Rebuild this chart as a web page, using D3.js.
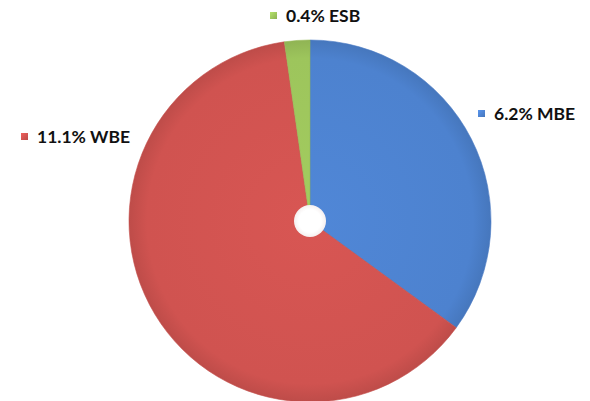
<!DOCTYPE html>
<html>
<head>
<meta charset="utf-8">
<script src="https://cdn.jsdelivr.net/npm/d3@7"></script>
<style>
  body { margin: 0; background: #fff; }
  svg { display: block; }
  text { font-family: Lato, "Open Sans", sans-serif; font-weight: bold; fill: #111; }
</style>
</head>
<body>
<div id="chart"></div>
<script>
// slices in drawing order, clockwise from 12 o'clock
const categories = ["MBE", "WBE", "ESB"];
const values = [6.2, 11.1, 0.4];
const colors = ["#4d82cf", "#d05350", "#9dc55c"];

const width = 590, height = 401;
const cx = 310, cy = 221, radius = 181, hole = 16;

// where each label sits (marker left edge, text baseline)
const labelPos = {
  MBE: [478, 120],
  WBE: [21, 143],
  ESB: [270, 22]
};

const svg = d3.select("#chart").append("svg")
  .attr("width", width)
  .attr("height", height);

const defs = svg.append("defs");

colors.forEach((c, i) => {
  const g = defs.append("radialGradient")
    .attr("id", "grad" + i)
    .attr("gradientUnits", "userSpaceOnUse")
    .attr("cx", 0).attr("cy", 0).attr("r", radius);
  g.append("stop").attr("offset", "0%").attr("stop-color", d3.color(c).brighter(0.1));
  g.append("stop").attr("offset", "90%").attr("stop-color", c);
  g.append("stop").attr("offset", "100%").attr("stop-color", d3.color(c).darker(0.25));

  const m = defs.append("linearGradient")
    .attr("id", "mark" + i)
    .attr("x1", 0).attr("y1", 0).attr("x2", 1).attr("y2", 1);
  m.append("stop").attr("offset", "0%").attr("stop-color", d3.color(c).brighter(0.4));
  m.append("stop").attr("offset", "100%").attr("stop-color", d3.color(c).darker(0.3));
});

const holeGrad = defs.append("radialGradient").attr("id", "holeGrad");
holeGrad.append("stop").attr("offset", "70%").attr("stop-color", "#ffffff");
holeGrad.append("stop").attr("offset", "100%").attr("stop-color", "#f5efef");

const data = categories.map((k, i) => ({ key: k, value: values[i], i }));

const pie = d3.pie().sort(null).value(d => d.value);
const arc = d3.arc().innerRadius(0).outerRadius(radius);

const g = svg.append("g").attr("transform", `translate(${cx},${cy})`);

g.selectAll("path.slice")
  .data(pie(data))
  .join("path")
  .attr("class", "slice")
  .attr("d", arc)
  .attr("fill", d => `url(#grad${d.data.i})`)
  .attr("stroke", d => d3.color(colors[d.data.i]).darker(0.15))
  .attr("stroke-width", 0.6);

g.append("circle")
  .attr("r", hole)
  .attr("fill", "url(#holeGrad)");

// labels with colored square markers
const lab = svg.append("g").selectAll("g")
  .data(data)
  .join("g")
  .attr("transform", d => `translate(${labelPos[d.key][0]},${labelPos[d.key][1]})`);

lab.append("rect")
  .attr("x", 0).attr("y", -10)
  .attr("width", 7).attr("height", 7)
  .attr("fill", d => `url(#mark${d.i})`);

lab.append("text")
  .attr("x", 16)
  .attr("y", 0)
  .style("font-size", "17.5px")
  .text(d => d3.format(".1f")(d.value) + "% " + d.key);
</script>
</body>
</html>
